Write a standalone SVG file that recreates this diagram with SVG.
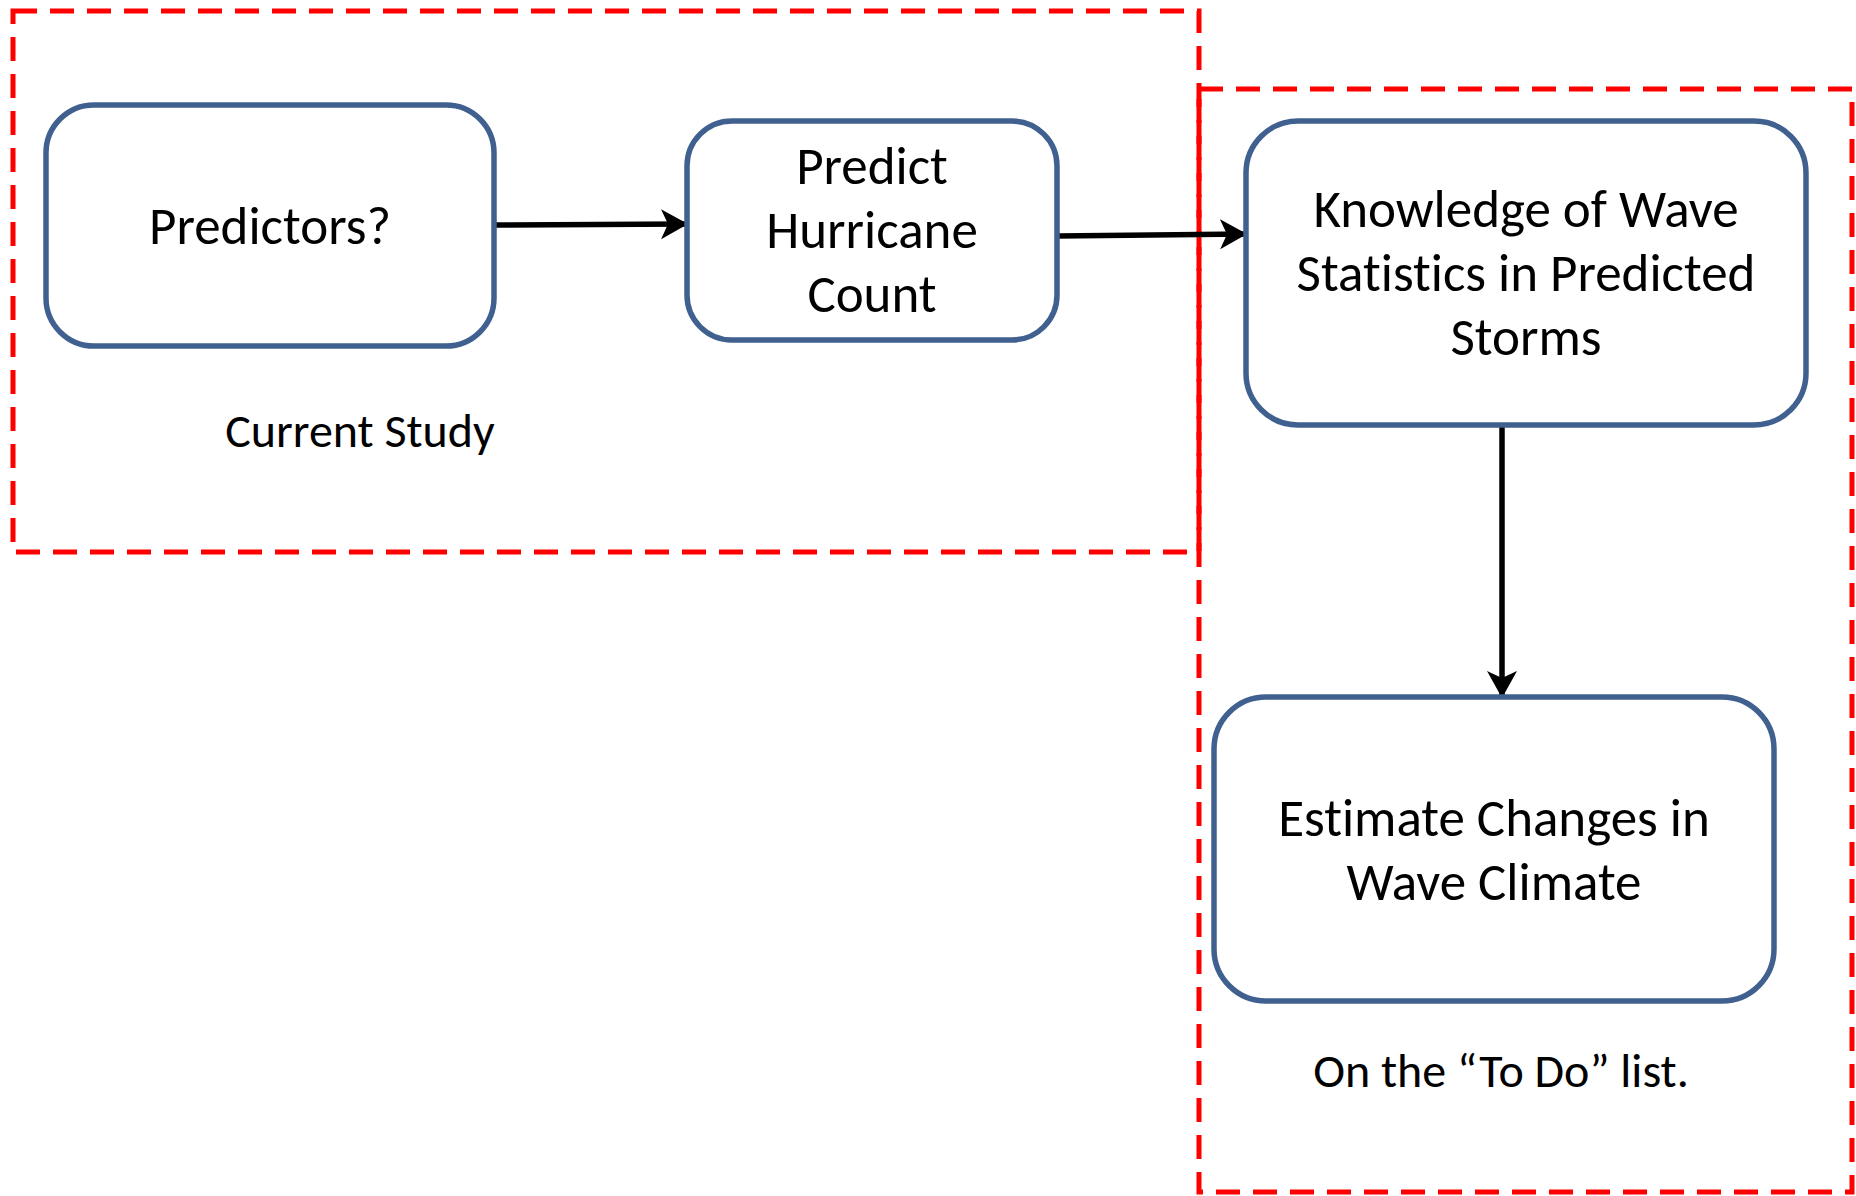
<svg xmlns="http://www.w3.org/2000/svg" width="1856" height="1196" viewBox="0 0 1856 1196">
<defs>
<style>
.node{fill:#ffffff;stroke:#40618F;stroke-width:5.5}
.lbl{font-family:Carlito,Calibri,Lato,"Liberation Sans",sans-serif;font-size:53px;fill:#000;text-anchor:middle;font-variant-ligatures:none}
.note{font-size:48px}
.grp{fill:none;stroke:#FF0000;stroke-width:5;stroke-dasharray:24 13}
.conn{stroke:#000;stroke-width:5.5;fill:none}
</style>
<marker id="arr" markerUnits="userSpaceOnUse" markerWidth="32" markerHeight="32" refX="26" refY="15" orient="auto">
<path d="M0,0 L27,15 L0,30 L7,15 Z" fill="#000"/>
</marker>
</defs>
<rect width="1856" height="1196" fill="#fff"/>
<g id="groups">
<path class="grp" d="M13,11 H1199 V552 H13 Z"/>
<path class="grp" d="M1199,89 H1852 V1192 H1199 Z"/>
<line x1="1199" y1="89" x2="1199" y2="552" stroke="#FF0000" stroke-width="4"/>
<text class="lbl note" x="360" y="447">Current Study</text>
<text class="lbl note" x="1501" y="1087">On the “To Do” list.</text>
</g>
<g id="connectors">
<line class="conn" x1="494" y1="225" x2="687" y2="224" marker-end="url(#arr)"/>
<line class="conn" x1="1057" y1="236" x2="1246" y2="234" marker-end="url(#arr)"/>
<line class="conn" x1="1502" y1="425" x2="1502" y2="697" marker-end="url(#arr)"/>
</g>
<g id="node-predictors">
<rect class="node" x="46" y="105" width="448" height="241" rx="48"/>
<text class="lbl" x="270" y="244">Predictors?</text>
</g>
<g id="node-predict">
<rect class="node" x="687" y="121" width="370" height="219" rx="45"/>
<text class="lbl" x="872" y="184">Predict</text>
<text class="lbl" x="872" y="248">Hurricane</text>
<text class="lbl" x="872" y="312">Count</text>
</g>
<g id="node-knowledge">
<rect class="node" x="1246" y="121" width="560" height="304" rx="52"/>
<text class="lbl" x="1526" y="227">Knowledge of Wave</text>
<text class="lbl" x="1526" y="291">Statistics in Predicted</text>
<text class="lbl" x="1526" y="355">Storms</text>
</g>
<g id="node-estimate">
<rect class="node" x="1214" y="697" width="560" height="304" rx="52"/>
<text class="lbl" x="1494" y="836">Estimate Changes in</text>
<text class="lbl" x="1494" y="900">Wave Climate</text>
</g>
</svg>
